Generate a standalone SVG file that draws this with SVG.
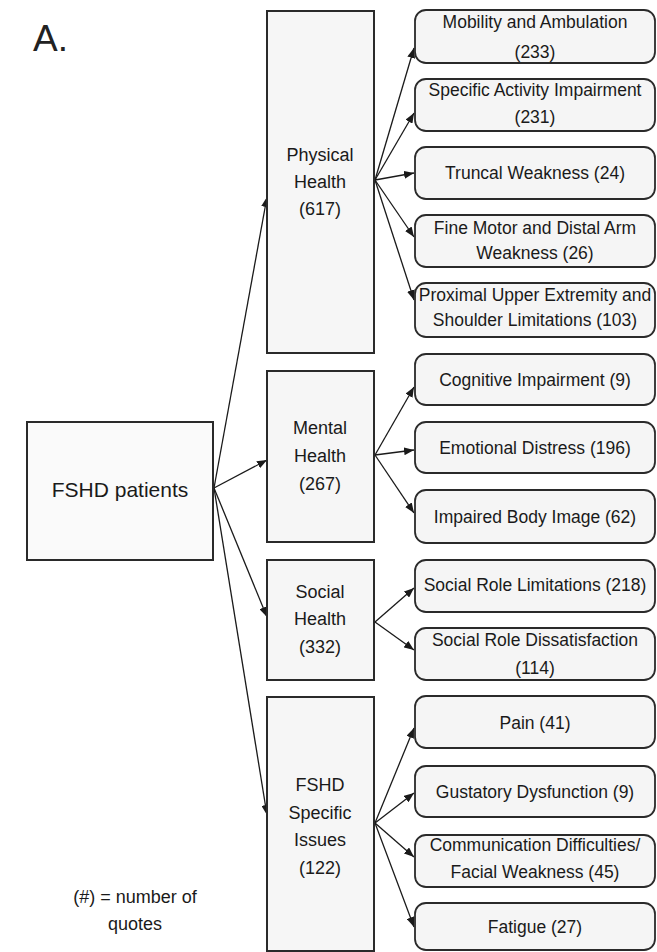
<svg xmlns="http://www.w3.org/2000/svg" width="657" height="952" viewBox="0 0 657 952">
<defs>
<style>
.bg{fill:#ffffff}
.main{fill:#fafafa;stroke:#2a2a2a;stroke-width:2}
.cat{fill:#f6f6f6;stroke:#2a2a2a;stroke-width:2}
.sub{fill:#f5f5f5;stroke:#2a2a2a;stroke-width:1.8}
text{font-family:"Liberation Sans",Arial,sans-serif;fill:#1a1a1a;text-anchor:middle}
.t{font-size:17.5px}
.c{font-size:18px}
.m{font-size:21px}
.edge{stroke:#1a1a1a;stroke-width:1.3;fill:none;marker-end:url(#ah)}
</style>
<marker id="ah" markerUnits="userSpaceOnUse" markerWidth="10" markerHeight="8" refX="10" refY="4" orient="auto">
<path d="M0,0 L10,4 L0,8 z" fill="#1a1a1a"/>
</marker>
</defs>
<rect class="bg" x="0" y="0" width="657" height="952"/>
<text x="33" y="51" style="font-size:37px;text-anchor:start;fill:#222">A.</text>

<g id="connectors">
<line class="edge" x1="214" y1="488" x2="267" y2="197"/>
<line class="edge" x1="214" y1="488" x2="267" y2="460"/>
<line class="edge" x1="214" y1="488" x2="267" y2="617"/>
<line class="edge" x1="214" y1="488" x2="267" y2="815"/>
<line class="edge" x1="375" y1="180" x2="414" y2="48"/>
<line class="edge" x1="375" y1="180" x2="414" y2="113"/>
<line class="edge" x1="375" y1="180" x2="414" y2="173"/>
<line class="edge" x1="375" y1="180" x2="414" y2="237"/>
<line class="edge" x1="375" y1="180" x2="414" y2="300"/>
<line class="edge" x1="375" y1="455" x2="414" y2="387"/>
<line class="edge" x1="375" y1="455" x2="414" y2="450"/>
<line class="edge" x1="375" y1="455" x2="414" y2="513"/>
<line class="edge" x1="375" y1="622" x2="414" y2="588"/>
<line class="edge" x1="375" y1="622" x2="414" y2="650"/>
<line class="edge" x1="375" y1="823" x2="414" y2="728"/>
<line class="edge" x1="375" y1="823" x2="414" y2="793"/>
<line class="edge" x1="375" y1="823" x2="414" y2="857"/>
<line class="edge" x1="375" y1="823" x2="414" y2="927"/>
</g>

<g id="fshd-patients">
<rect class="main" x="27" y="422" width="186" height="138"/>
<text class="m" x="120" y="497">FSHD patients</text>
</g>

<g id="physical-health">
<rect class="cat" x="267" y="11" width="107" height="342"/>
<text class="c" x="320" y="161">Physical</text>
<text class="c" x="320" y="188">Health</text>
<text class="c" x="320" y="215">(617)</text>
</g>
<g id="mental-health">
<rect class="cat" x="267" y="371" width="107" height="171"/>
<text class="c" x="320" y="434">Mental</text>
<text class="c" x="320" y="462">Health</text>
<text class="c" x="320" y="490">(267)</text>
</g>
<g id="social-health">
<rect class="cat" x="267" y="560" width="107" height="120"/>
<text class="c" x="320" y="598">Social</text>
<text class="c" x="320" y="625">Health</text>
<text class="c" x="320" y="653">(332)</text>
</g>
<g id="fshd-specific">
<rect class="cat" x="267" y="697" width="107" height="254"/>
<text class="c" x="320" y="791">FSHD</text>
<text class="c" x="320" y="819">Specific</text>
<text class="c" x="320" y="846">Issues</text>
<text class="c" x="320" y="874">(122)</text>
</g>

<g id="mobility">
<rect class="sub" x="415" y="10" width="240" height="53" rx="11"/>
<text class="t" x="535" y="28">Mobility and Ambulation</text>
<text class="t" x="535" y="58">(233)</text>
</g>
<g id="specific-activity">
<rect class="sub" x="415" y="79" width="240" height="52" rx="11"/>
<text class="t" x="535" y="96">Specific Activity Impairment</text>
<text class="t" x="535" y="123">(231)</text>
</g>
<g id="truncal">
<rect class="sub" x="415" y="147" width="240" height="52" rx="11"/>
<text class="t" x="535" y="179">Truncal Weakness (24)</text>
</g>
<g id="fine-motor">
<rect class="sub" x="415" y="215" width="240" height="52" rx="11"/>
<text class="t" x="535" y="234">Fine Motor and Distal Arm</text>
<text class="t" x="535" y="259">Weakness (26)</text>
</g>
<g id="proximal">
<rect class="sub" x="415" y="283" width="240" height="54" rx="11"/>
<text class="t" x="535" y="301">Proximal Upper Extremity and</text>
<text class="t" x="535" y="326">Shoulder Limitations (103)</text>
</g>
<g id="cognitive">
<rect class="sub" x="415" y="354" width="240" height="51" rx="11"/>
<text class="t" x="535" y="386">Cognitive Impairment (9)</text>
</g>
<g id="emotional">
<rect class="sub" x="415" y="422" width="240" height="51" rx="11"/>
<text class="t" x="535" y="454">Emotional Distress (196)</text>
</g>
<g id="body-image">
<rect class="sub" x="415" y="490" width="240" height="53" rx="11"/>
<text class="t" x="535" y="523">Impaired Body Image (62)</text>
</g>
<g id="social-role-lim">
<rect class="sub" x="415" y="560" width="240" height="52" rx="11"/>
<text class="t" x="535" y="591">Social Role Limitations (218)</text>
</g>
<g id="social-role-dis">
<rect class="sub" x="415" y="628" width="240" height="52" rx="11"/>
<text class="t" x="535" y="646">Social Role Dissatisfaction</text>
<text class="t" x="535" y="674">(114)</text>
</g>
<g id="pain">
<rect class="sub" x="415" y="696" width="240" height="52" rx="11"/>
<text class="t" x="535" y="729">Pain (41)</text>
</g>
<g id="gustatory">
<rect class="sub" x="415" y="766" width="240" height="51" rx="11"/>
<text class="t" x="535" y="798">Gustatory Dysfunction (9)</text>
</g>
<g id="communication">
<rect class="sub" x="415" y="835" width="240" height="52" rx="11"/>
<text class="t" x="535" y="851">Communication Difficulties/</text>
<text class="t" x="535" y="878">Facial Weakness (45)</text>
</g>
<g id="fatigue">
<rect class="sub" x="415" y="903" width="240" height="47" rx="11"/>
<text class="t" x="535" y="933">Fatigue (27)</text>
</g>

<g id="legend">
<text class="c" x="135" y="903">(#) = number of</text>
<text class="c" x="135" y="930">quotes</text>
</g>
</svg>
